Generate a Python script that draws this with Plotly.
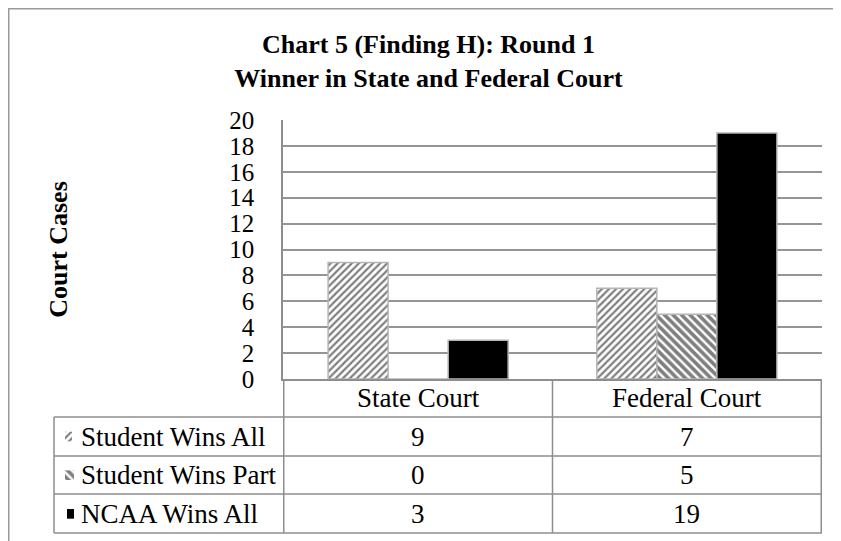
import plotly.graph_objects as go

# ---- data ----
categories = ["State Court", "Federal Court"]
series_names = ["Student Wins All", "Student Wins Part", "NCAA Wins All"]
student_wins_all = [9, 7]
student_wins_part = [0, 5]
ncaa_wins_all = [3, 19]
y_tick_vals = list(range(0, 21, 2))

title_text = "<b>Chart 5 (Finding H): Round 1<br>Winner in State and Federal Court</b>"
y_title = "Court Cases"

# ---- layout geometry (pixels, measured on the screenshot, page offset removed) ----
OFF = 8
W, H = 841, 541
PX_LEFT, PX_RIGHT = 54 - OFF, 822 - OFF        # paper extents
PY_TOP, PY_BOTTOM = 120 - OFF, 533 - OFF
PLOT_LEFT, PLOT_BOTTOM = 283 - OFF, 379 - OFF
ROW_LINES = [v - OFF for v in (417, 456, 494, 533)]

pw = PX_RIGHT - PX_LEFT
ph = PY_BOTTOM - PY_TOP


def px(xp):
    return (xp - PX_LEFT) / pw


def py(yp):
    return (PY_BOTTOM - yp) / ph


FONT = "Liberation Serif, Times New Roman, serif"
GRID = "#959595"
LINE = "#8e8e8e"

series_values = [student_wins_all, student_wins_part, ncaa_wins_all]
patterns = [
    dict(shape="/", fgcolor="black", bgcolor="white", size=5, solidity=0.45),
    dict(shape="\\", fgcolor="black", bgcolor="white", size=6, solidity=0.6),
    dict(shape="", fgcolor="black", bgcolor="black"),
]
colors = ["white", "white", "black"]

fig = go.Figure()
for name, vals, pat, col in zip(series_names, series_values, patterns, colors):
    fig.add_trace(go.Bar(
        x=categories, y=vals, name=name,
        marker=dict(color=col, pattern=pat, line=dict(color="#b5b5b5", width=1.5)),
        xaxis="x", yaxis="y", showlegend=False,
    ))

# legend keys inside the data table (tiny bars on an auxiliary axis pair)
for i, (name, pat, col) in enumerate(zip(series_names, patterns, colors)):
    fig.add_trace(go.Bar(
        x=[0.5], y=[0.25], base=[i + 0.38], width=[1.0], name=name + " key",
        marker=dict(color=col, pattern=pat, line=dict(width=0)),
        xaxis="x2", yaxis="y2", showlegend=False, hoverinfo="skip",
    ))

fig.update_layout(
    width=W, height=H,
    margin=dict(l=PX_LEFT, r=W - PX_RIGHT, t=PY_TOP, b=H - PY_BOTTOM, autoexpand=False),
    paper_bgcolor="white", plot_bgcolor="white",
    font=dict(family=FONT, size=26, color="black"),
    barmode="group", bargap=0.33, bargroupgap=0.0,
    showlegend=False,
    title=dict(text=title_text, x=0.5, xref="container", xanchor="center",
               y=1 - 45 / H, yref="container", yanchor="middle",
               font=dict(family=FONT, size=26, color="black")),
    xaxis=dict(domain=[px(PLOT_LEFT), 1.0], anchor="y", showticklabels=False,
               ticks="", showgrid=False, showline=True, linecolor=LINE, linewidth=1.5,
               zeroline=False),
    yaxis=dict(domain=[py(PLOT_BOTTOM), 1.0], anchor="x", range=[0, 20],
               tickvals=y_tick_vals, ticks="", ticklabelstandoff=22,
               tickfont=dict(family=FONT, size=25),
               showgrid=True, gridcolor=GRID, gridwidth=1.5,
               showline=True, linecolor=LINE, linewidth=1.5, zeroline=False,
               title=dict(text="<b>" + y_title + "</b>", standoff=154,
                          font=dict(family=FONT, size=26))),
    xaxis2=dict(domain=[px(65 - OFF), px(74 - OFF)], anchor="y2", range=[0, 1],
                visible=False, fixedrange=True),
    yaxis2=dict(domain=[py(ROW_LINES[-1]), py(ROW_LINES[0])], anchor="x2",
                range=[3, 0], visible=False, fixedrange=True),
)

shapes = []
# horizontal table lines
for yl in ROW_LINES:
    shapes.append(dict(type="line", xref="paper", yref="paper", x0=0, x1=1,
                       y0=py(yl), y1=py(yl), line=dict(color=LINE, width=1.5)))
# vertical lines at category boundaries
for xb in [-0.5, 0.5, 1.5]:
    shapes.append(dict(type="line", xref="x", yref="paper", x0=xb, x1=xb,
                       y0=py(PLOT_BOTTOM), y1=py(ROW_LINES[-1]),
                       line=dict(color=LINE, width=1.5)))
# left border of label column
shapes.append(dict(type="line", xref="paper", yref="paper", x0=0, x1=0,
                   y0=py(ROW_LINES[0]), y1=py(ROW_LINES[-1]),
                   line=dict(color=LINE, width=1.5)))
# outer chart frame (cropped at right / bottom by the window)
shapes.append(dict(type="rect", xref="paper", yref="paper",
                   x0=px(0.75), x1=px(W - 0.75), y0=py(H - 0.75), y1=py(0.75),
                   line=dict(color="#9a9a9a", width=1.5), fillcolor="rgba(0,0,0,0)"))
fig.update_layout(shapes=shapes)

annotations = []
header_y = py((PLOT_BOTTOM + ROW_LINES[0]) / 2)
for c in categories:
    annotations.append(dict(text=c, x=c, xref="x", y=header_y, yref="paper",
                            showarrow=False, xanchor="center", yanchor="middle",
                            font=dict(family=FONT, size=27)))
for i, (name, vals) in enumerate(zip(series_names, series_values)):
    yc = py((ROW_LINES[i] + ROW_LINES[i + 1]) / 2)
    annotations.append(dict(text=name, x=px(79 - OFF), xref="paper", y=yc, yref="paper",
                            showarrow=False, xanchor="left", yanchor="middle",
                            font=dict(family=FONT, size=27)))
    for c, v in zip(categories, vals):
        annotations.append(dict(text=str(v), x=c, xref="x", y=yc, yref="paper",
                                showarrow=False, xanchor="center", yanchor="middle",
                                font=dict(family=FONT, size=27)))
fig.update_layout(annotations=annotations)

fig.write_html("out.html")
